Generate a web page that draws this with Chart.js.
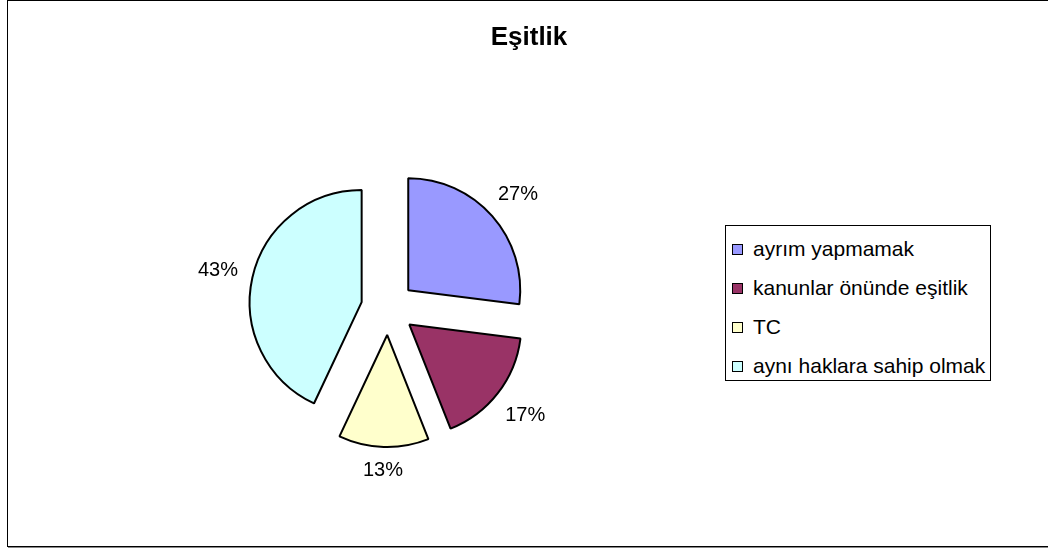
<!DOCTYPE html>
<html>
<head>
<meta charset="utf-8">
<script src="https://cdn.jsdelivr.net/npm/chart.js@4/dist/chart.umd.min.js"></script>
<style>
  html, body { margin: 0; padding: 0; background: #fff; }
  #wrap { position: relative; width: 1048px; height: 552px; overflow: hidden; font-family: "Liberation Sans", Arial, sans-serif; }
  #frame { position: absolute; left: 7px; top: 0; width: 1048px; height: 545px; border: 1px solid #000; box-shadow: 1px 1px 0 #888; }
  #title { position: absolute; left: 7px; width: 1044px; top: 21px; text-align: center; font-weight: bold; font-size: 26px; color: #000; }
  #legend { position: absolute; left: 725px; top: 225px; width: 264px; height: 154px; border: 1px solid #000; background: #fff; }
  .row { position: absolute; left: 6px; height: 24px; line-height: 24px; font-size: 21px; color: #000; white-space: nowrap; }
  .box { display: inline-block; width: 9px; height: 9px; border: 1px solid #000; margin-right: 10px; vertical-align: 1px; }
  #c { position: absolute; left: 0; top: 0; }
</style>
</head>
<body>
<div id="wrap">
  <div id="frame"></div>
  <canvas id="c" width="1048" height="552"></canvas>
  <div id="title">Eşitlik</div>
  <div id="legend"></div>
</div>
<script>
const labels = ["ayrım yapmamak", "kanunlar önünde eşitlik", "TC", "aynı haklara sahip olmak"];
const values = [27, 17, 13, 43];
const colors = ["#9999FF", "#993366", "#FFFFCC", "#CCFFFF"];

// legend as html, boxed like the original
const legend = document.getElementById("legend");
labels.forEach((l, i) => {
  const row = document.createElement("div");
  row.className = "row";
  row.style.top = (11 + i * 39) + "px";
  row.innerHTML = '<span class="box" style="background:' + colors[i] + '"></span>' + l;
  legend.appendChild(row);
});

const explode = 27;

// chart.js shrinks "offset" to a quarter and grows the radius, so push
// each slice out by a plain translation instead
const explodeSlices = {
  id: "explodeSlices",
  afterUpdate(chart) {
    chart.getDatasetMeta(0).data.forEach((arc) => {
      if (arc._exploded) return;
      arc._exploded = true;
      const baseDraw = arc.draw;
      arc.draw = function (ctx) {
        const mid = (this.startAngle + this.endAngle) / 2;
        ctx.save();
        ctx.translate(Math.cos(mid) * explode, Math.sin(mid) * explode);
        baseDraw.call(this, ctx);
        ctx.restore();
      };
    });
  }
};

// percentage labels outside each exploded slice
const pctLabels = {
  id: "pctLabels",
  afterDatasetsDraw(chart) {
    const ctx = chart.ctx;
    const total = values.reduce((a, b) => a + b, 0);
    ctx.save();
    ctx.font = "20px 'Liberation Sans', Arial, sans-serif";
    ctx.fillStyle = "#000";
    ctx.textAlign = "center";
    ctx.textBaseline = "middle";
    chart.getDatasetMeta(0).data.forEach((arc, i) => {
      const p = arc.getProps(["x", "y", "startAngle", "endAngle", "outerRadius"], true);
      const mid = (p.startAngle + p.endAngle) / 2;
      const dx = Math.cos(mid), dy = Math.sin(mid);
      const text = Math.round(values[i] / total * 100) + "%";
      const w = ctx.measureText(text).width;
      const d = p.outerRadius + 14 + Math.abs(dx) * w / 2 + Math.abs(dy) * 8;
      const cx = p.x + dx * explode;
      const cy = p.y + dy * explode;
      ctx.fillText(text, cx + dx * d, cy + dy * d + 1);
    });
    ctx.restore();
  }
};

new Chart(document.getElementById("c"), {
  type: "pie",
  data: {
    labels: labels,
    datasets: [
      {
        data: values,
        backgroundColor: colors,
        borderColor: "#000",
        borderWidth: 2,
        offset: 0,
        hoverOffset: 0,
      },
    ],
  },
  options: {
    responsive: false,
    animation: false,
    radius: 112,
    layout: {
      padding: { left: 150, right: 422, top: 150, bottom: 86 },
    },
    plugins: {
      legend: { display: false },
      title: { display: false },
      tooltip: { enabled: false },
    },
  },
  plugins: [explodeSlices, pctLabels],
});
</script>
</body>
</html>
